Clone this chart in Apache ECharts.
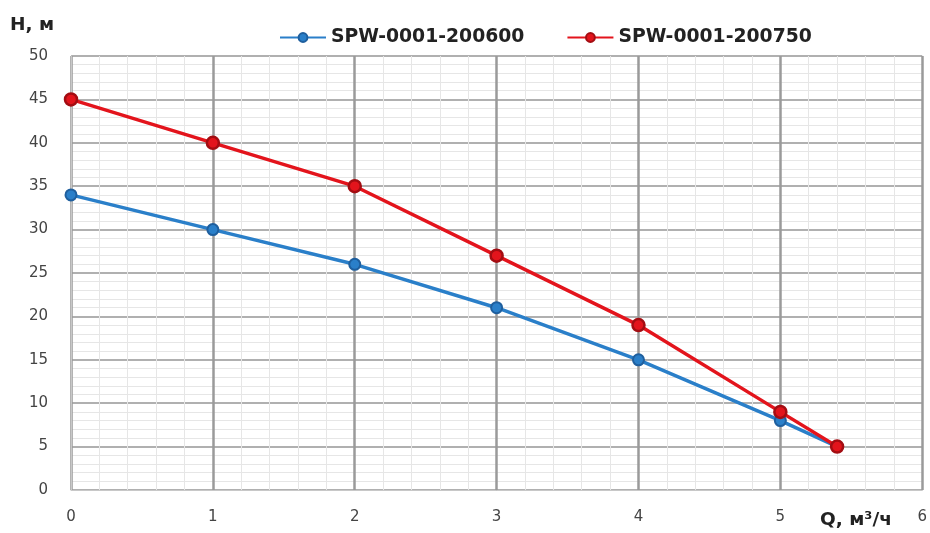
<!DOCTYPE html>
<html><head><meta charset="utf-8">
<script src="https://cdn.jsdelivr.net/npm/echarts@6/dist/echarts.min.js"></script>
<style>html,body{margin:0;padding:0;background:#fff}#c{width:930px;height:533px}</style>
</head><body><div id="c"></div>
<script>
const qValues = [0, 1, 2, 3, 4, 5, 5.4];
const h200600 = [34, 30, 26, 21, 15, 8, 5];
const h200750 = [45, 40, 35, 27, 19, 9, 5];
const seriesNames = ['SPW-0001-200600', 'SPW-0001-200750'];
const yTitle = 'H, м';
const xTitle = 'Q, м³/ч';

const pairs = (ys) => qValues.map((q, i) => [q, ys[i]]);
const chart = echarts.init(document.getElementById('c'));
const font = '"DejaVu Sans", Verdana, sans-serif';
chart.setOption({
  animation: false,
  grid: { left: 71, right: 7, top: 56, bottom: 43 },
  legend: {
    top: 23, left: 274,
    itemGap: 42, itemWidth: 46, itemHeight: 11,
    textStyle: { fontFamily: font, fontSize: 18.8, fontWeight: 'bold', color: '#222' },
    data: seriesNames
  },
  xAxis: {
    type: 'value', min: 0, max: 6, interval: 1,
    axisLine: { show: true, lineStyle: { color: '#c8c8c8', width: 1 } },
    axisTick: { show: false },
    axisLabel: { fontFamily: font, fontSize: 15, color: '#444', margin: 20 },
    splitLine: { show: true, lineStyle: { color: '#9a9a9a', width: 2.5 } },
    minorTick: { show: false, splitNumber: 5 },
    minorSplitLine: { show: true, lineStyle: { color: '#e6e6e6', width: 1 } }
  },
  yAxis: {
    type: 'value', min: 0, max: 50, interval: 5,
    axisLine: { show: true, lineStyle: { color: '#c8c8c8', width: 1 } },
    axisTick: { show: false },
    axisLabel: { fontFamily: font, fontSize: 15, color: '#444', margin: 23 },
    splitLine: { show: true, lineStyle: { color: '#b0b0b0', width: 2 } },
    minorTick: { show: false, splitNumber: 5 },
    minorSplitLine: { show: true, lineStyle: { color: '#e6e6e6', width: 1 } }
  },
  series: [
    {
      name: seriesNames[0], type: 'line', data: pairs(h200600),
      symbol: 'circle', symbolSize: 11,
      lineStyle: { color: '#2a7fc9', width: 3.5 },
      itemStyle: { color: '#2a7fc9', borderColor: '#1f5f9e', borderWidth: 2 },
      z: 3
    },
    {
      name: seriesNames[1], type: 'line', data: pairs(h200750),
      symbol: 'circle', symbolSize: 12,
      lineStyle: { color: '#e3141c', width: 3.5 },
      itemStyle: { color: '#e3141c', borderColor: '#a30d12', borderWidth: 2.5 },
      z: 4
    }
  ],
  graphic: [
    { type: 'text', left: 10, top: 16, style: { text: yTitle, font: 'bold 18.5px ' + font, fill: '#222' } },
    { type: 'text', left: 820, top: 511, style: { text: xTitle, font: 'bold 18.5px ' + font, fill: '#222' } }
  ]
});
</script></body></html>
